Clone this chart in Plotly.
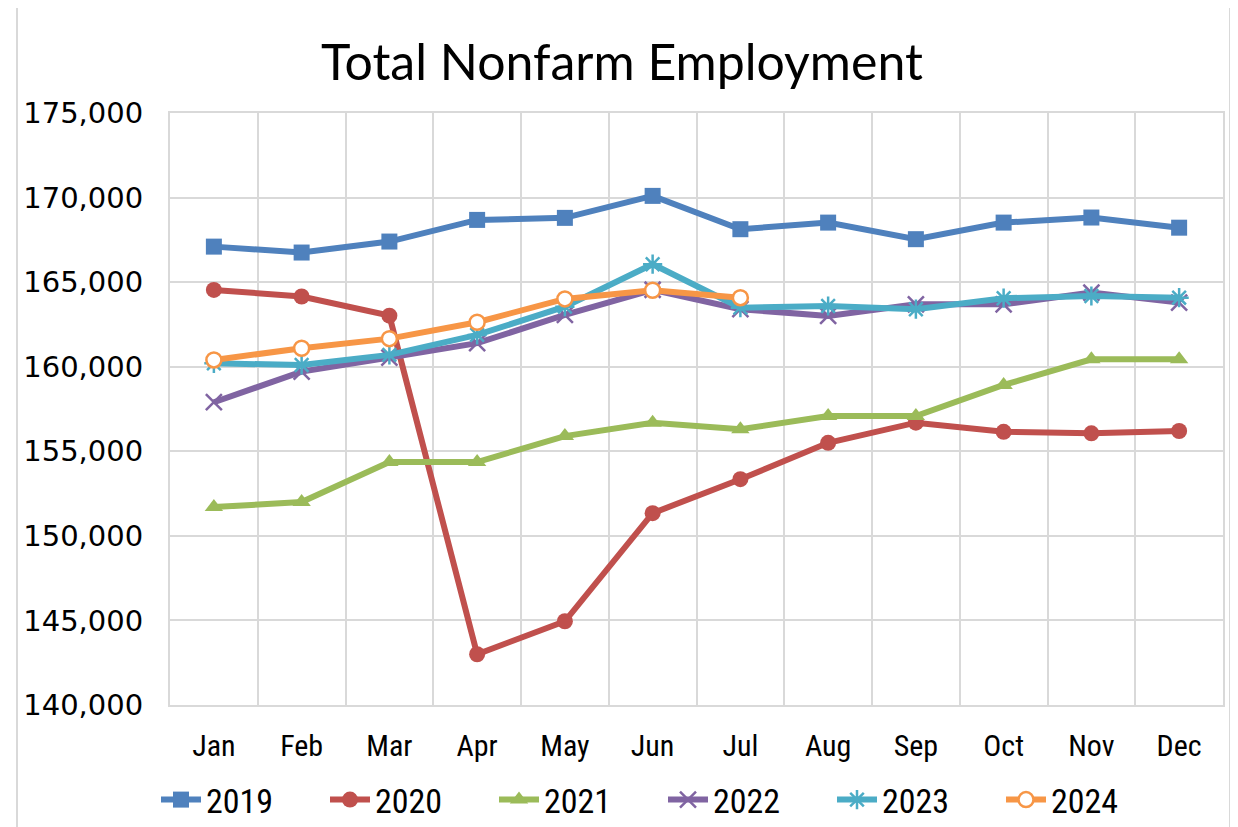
import plotly.graph_objects as go

months = ["Jan", "Feb", "Mar", "Apr", "May", "Jun", "Jul", "Aug", "Sep", "Oct", "Nov", "Dec"]

y2019 = [167100, 166750, 167400, 168680, 168800, 170100, 168130, 168520, 167540, 168520, 168820, 168220]
y2020 = [164540, 164150, 163020, 143000, 144950, 151340, 153350, 155500, 156690, 156150, 156060, 156200]
y2021 = [151700, 152000, 154360, 154360, 155900, 156690, 156300, 157080, 157080, 158920, 160440, 160440]
y2022 = [157900, 159710, 160540, 161390, 163060, 164550, 163400, 163000, 163690, 163690, 164380, 163790]
y2023 = [160200, 160100, 160700, 161880, 163550, 166060, 163490, 163590, 163400, 164050, 164180, 164080]
y2024 = [160400, 161090, 161660, 162630, 164010, 164520, 164080]

series = [
    ("2019", y2019, "#4F81BD", dict(symbol="square", size=16)),
    ("2020", y2020, "#C0504D", dict(symbol="circle", size=16)),
    ("2021", y2021, "#9BBB59", dict(symbol="triangle-up", size=16)),
    ("2022", y2022, "#8064A2", dict(symbol="x-thin-open", size=16, line=dict(width=2.5))),
    ("2023", y2023, "#4BACC6", dict(symbol="asterisk-open", size=16, line=dict(width=2.5))),
    ("2024", y2024, "#F79646", dict(symbol="circle", size=15, color="white", line=dict(color="#F79646", width=2.5))),
]

fig = go.Figure()
for name, vals, color, mk in series:
    marker = dict(color=color)
    marker.update(mk)
    if "line" in mk and "color" not in mk["line"]:
        marker["line"] = dict(color=color, width=mk["line"]["width"])
    fig.add_trace(go.Scatter(
        x=months[:len(vals)], y=vals, name=name, mode="lines+markers",
        line=dict(color=color, width=6), marker=marker,
    ))

W, H = 1230, 819  # page body has an 8px margin
grid = "#D9D9D9"
fig.update_layout(
    width=W, height=H,
    paper_bgcolor="white", plot_bgcolor="white",
    margin=dict(l=162, r=15, t=105, b=122, autoexpand=False),
    title=dict(text="Total Nonfarm Employment", x=(622 - 8) / W, xref="container", xanchor="center",
               y=(H - 54) / H, yref="container", yanchor="middle",
               font=dict(family="Lato", size=50, color="black")),
    xaxis=dict(categoryorder="array", categoryarray=months, tickson="boundaries",
               showgrid=True, gridcolor=grid, gridwidth=2, showline=True, linecolor=grid,
               linewidth=2, mirror=True, ticks="", ticklabelstandoff=13, automargin=False,
               tickfont=dict(family="Liberation Sans Narrow, Roboto Condensed, Roboto", size=30, color="black"),
               range=[-0.5, 11.5]),
    yaxis=dict(range=[140000, 175000], dtick=5000, tickformat=",", showgrid=True,
               gridcolor=grid, gridwidth=2, showline=True, linecolor=grid, linewidth=2,
               mirror=True, ticks="", ticklabelstandoff=19, zeroline=False, automargin=False,
               tickfont=dict(family="DejaVu Sans", size=29, color="black")),
    legend=dict(orientation="h", xref="container", x=(156 - 8) / W, xanchor="left",
                yref="container", y=27 / H, yanchor="middle", bgcolor="rgba(0,0,0,0)",
                font=dict(family="Liberation Sans Narrow, Roboto Condensed, Roboto", size=34, color="black"),
                entrywidth=114, itemwidth=40, tracegroupgap=0),
    showlegend=True,
)
fig.add_shape(type="rect", xref="paper", yref="paper",
              x0=(9 - 162) / 1053, x1=(1222 - 162) / 1053,
              y0=-0.3, y1=(697 + 3.5) / 592,
              line=dict(color=grid, width=2), fillcolor="rgba(0,0,0,0)", layer="below")
fig.write_html("out.html")
